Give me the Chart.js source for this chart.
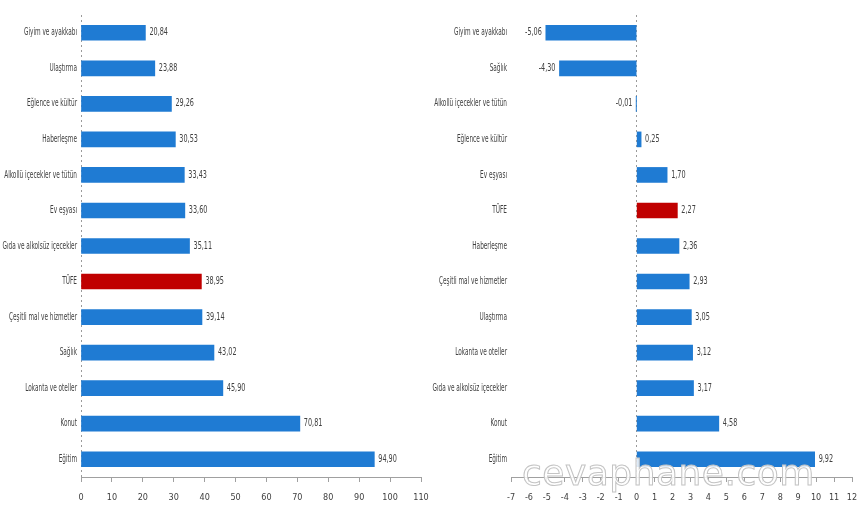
<!DOCTYPE html>
<html>
<head>
<meta charset="utf-8">
<script src="https://cdn.jsdelivr.net/npm/chart.js@4.4.1/dist/chart.umd.min.js"></script>
<style>
    html, body { margin: 0; padding: 0; background: #fff; }
    .page { position: relative; width: 858px; height: 514px; overflow: hidden; }
    .chart-box { position: absolute; top: 0; height: 514px; }
    .chart-left { left: 0; width: 430px; }
    .chart-right { left: 430px; width: 428px; }
    .watermark {
        position: absolute; left: 522px; top: 452px;
        font: 36px 'DejaVu Sans', sans-serif; letter-spacing: 0.5px;
        color: rgba(255, 255, 255, 0.85);
        -webkit-text-stroke: 1px #c4c4c4;
        pointer-events: none;
    }
</style>
</head>
<body>
<div class="page">
    <div class="chart-box chart-left"><canvas id="annual"></canvas></div>
    <div class="chart-box chart-right"><canvas id="monthly"></canvas></div>
    <div class="watermark">cevaphane.com</div>
</div>
<script>
// yıllık değişim (%)
const annualLabels = [
    'Giyim ve ayakkabı', 'Ulaştırma', 'Eğlence ve kültür', 'Haberleşme',
    'Alkollü içecekler ve tütün', 'Ev eşyası', 'Gıda ve alkolsüz içecekler', 'TÜFE',
    'Çeşitli mal ve hizmetler', 'Sağlık', 'Lokanta ve oteller', 'Konut', 'Eğitim'
]
const annualValues = [20.84, 23.88, 29.26, 30.53, 33.43, 33.60, 35.11, 38.95, 39.14, 43.02, 45.90, 70.81, 94.90]
const annualTicks = [0, 110, 10]

// aylık değişim (%)
const monthlyLabels = [
    'Giyim ve ayakkabı', 'Sağlık', 'Alkollü içecekler ve tütün', 'Eğlence ve kültür',
    'Ev eşyası', 'TÜFE', 'Haberleşme', 'Çeşitli mal ve hizmetler', 'Ulaştırma',
    'Lokanta ve oteller', 'Gıda ve alkolsüz içecekler', 'Konut', 'Eğitim'
]
const monthlyValues = [-5.06, -4.30, -0.01, 0.25, 1.70, 2.27, 2.36, 2.93, 3.05, 3.12, 3.17, 4.58, 9.92]
const monthlyTicks = [-7, 12, 1]

const BLUE = '#1f7bd3'
const RED = '#c00000'
const TEXT = '#404040'
const FONT = "'DejaVu Sans Condensed', 'DejaVu Sans', sans-serif"

// the source uses a very narrow face, so squeeze text horizontally
function narrowText(ctx, txt, x, y, align, sx) {
    ctx.save()
    ctx.translate(x, y)
    ctx.scale(sx, 1)
    ctx.textAlign = align
    ctx.fillText(txt, 0, 0)
    ctx.restore()
}

const narrowLabels = {
    id: 'narrowLabels',
    afterDatasetsDraw(chart) {
        const ctx = chart.ctx
        const meta = chart.getDatasetMeta(0)
        const data = chart.data.datasets[0].data
        const yScale = chart.scales.y
        ctx.save()
        ctx.fillStyle = TEXT
        ctx.textBaseline = 'middle'

        // category names
        ctx.font = `10px ${FONT}`
        chart.data.labels.forEach((lab, i) => {
            narrowText(ctx, lab, yScale.right - 4, yScale.getPixelForValue(i), 'right', 0.64)
        })

        // values at bar ends
        ctx.font = `10px ${FONT}`
        meta.data.forEach((bar, i) => {
            const v = data[i]
            const txt = v.toFixed(2).replace('.', ',')
            if (v < 0) narrowText(ctx, txt, bar.x - 4, bar.y, 'right', 0.72)
            else narrowText(ctx, txt, bar.x + 4, bar.y, 'left', 0.72)
        })
        ctx.restore()
    }
}

function makeChart(id, labels, values, ticks, rightPad) {
    const [min, max, step] = ticks
    return new Chart(document.getElementById(id), {
        type: 'bar',
        data: {
            labels: labels,
            datasets: [{
                data: values,
                backgroundColor: labels.map(l => l === 'TÜFE' ? RED : BLUE),
                borderWidth: 0,
                barThickness: 15
            }]
        },
        options: {
            indexAxis: 'y',
            animation: false,
            responsive: true,
            maintainAspectRatio: false,
            layout: { padding: { top: 15, right: rightPad, left: 0, bottom: 0 } },
            plugins: {
                legend: { display: false },
                tooltip: { enabled: false }
            },
            scales: {
                x: {
                    min: min,
                    max: max,
                    afterFit: scale => {
                        scale.height = 37
                        scale.paddingLeft = 0
                        scale.paddingRight = 0
                    },
                    ticks: {
                        stepSize: step,
                        padding: 10,
                        color: TEXT,
                        font: { family: FONT, size: 9 }
                    },
                    grid: {
                        color: c => c.tick && c.tick.value === 0 ? '#9a9a9a' : 'rgba(0,0,0,0)',
                        tickColor: '#a0a0a0',
                        tickLength: 5,
                        tickBorderDash: [],
                        lineWidth: 1
                    },
                    border: { display: true, color: '#a0a0a0', dash: [2, 3] }
                },
                y: {
                    afterFit: scale => { scale.width = 81 },
                    ticks: { display: false },
                    grid: { display: false, drawTicks: false },
                    border: { display: false }
                }
            }
        },
        plugins: [narrowLabels]
    })
}

makeChart('annual', annualLabels, annualValues, annualTicks, 9)
makeChart('monthly', monthlyLabels, monthlyValues, monthlyTicks, 6)
</script>
</body>
</html>
